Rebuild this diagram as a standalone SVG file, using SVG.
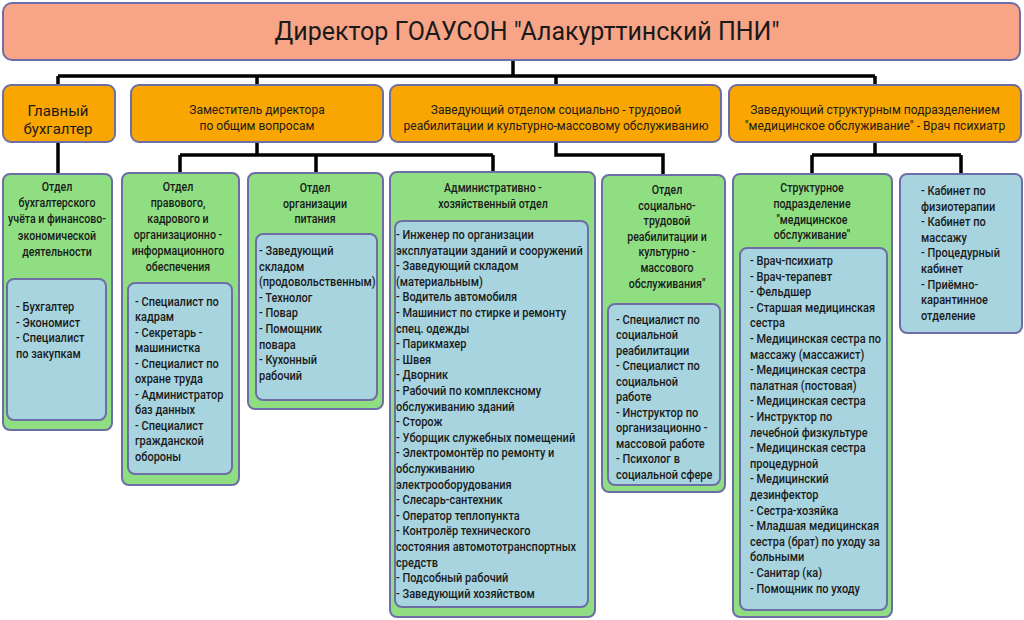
<svg xmlns="http://www.w3.org/2000/svg" width="1024" height="620" viewBox="0 0 1024 620">
<style>
.top{fill:#f8a487;stroke:#6e6ea6;stroke-width:2}
.or{fill:#f9a602;stroke:#6e6ea6;stroke-width:2}
.gr{fill:#8fdf82;stroke:#6e6ea6;stroke-width:2}
.bl{fill:#a8d4e0;stroke:#6e6ea6;stroke-width:2}
.t{font-family:Roboto,"Noto Sans",sans-serif;fill:#1a1a1a}
.h{font-size:12px}
.c{font-size:12.5px;font-weight:500}
.m{text-anchor:middle}
.ln{fill:none;stroke:#000;stroke-width:3.5}
</style>
<rect width="1024" height="620" fill="#fff"/>
<g id="connectors">
<path class="ln" d="M513,60V76M58,76H875M58,76V86M257,76V86M556,76V86M875,76V86"/>
<path class="ln" d="M58,142V175"/>
<path class="ln" d="M257,142V155M180,155H493M180,155V174M316,155V174M493,155V173"/>
<path class="ln" d="M556,142V155H663V176"/>
<path class="ln" d="M875,142V155M812,155H961M812,155V175M961,155V175"/>
</g>
<g id="director">
<rect class="top" x="3" y="3" width="1017" height="57" rx="9"/>
<text class="t m" x="527" y="40" font-size="25">Директор ГОАУСОН "Алакурттинский ПНИ"</text>
</g>
<g id="chief-accountant">
<rect class="or" x="3" y="85" width="112" height="57" rx="8"/>
<text class="t m" x="58" y="116" font-size="15"><tspan x="58">Главный</tspan><tspan x="58" dy="18">бухгалтер</tspan></text>
</g>
<g id="deputy">
<rect class="or" x="131" y="85" width="252" height="57" rx="8"/>
<text class="t h m" x="257" y="114"><tspan x="257">Заместитель директора</tspan><tspan x="257" dy="16">по общим вопросам</tspan></text>
</g>
<g id="head-social">
<rect class="or" x="390" y="85" width="331" height="57" rx="8"/>
<text class="t h m" x="556" y="114"><tspan x="556">Заведующий отделом социально - трудовой</tspan><tspan x="556" dy="16">реабилитации и культурно-массовому обслуживанию</tspan></text>
</g>
<g id="head-medical">
<rect class="or" x="729" y="85" width="292" height="57" rx="8"/>
<text class="t h m" x="875" y="114"><tspan x="875">Заведующий структурным подразделением</tspan><tspan x="875" dy="16">"медицинское обслуживание" - Врач психиатр</tspan></text>
</g>
<g id="dept-accounting">
<rect class="gr" x="3" y="174" width="109" height="256" rx="7"/>
<text class="t c m" transform="translate(57,0) scale(0.85,1)" y="191"><tspan x="0">Отдел</tspan><tspan x="0" dy="16.2">бухгалтерского</tspan><tspan x="0" dy="16.2">учёта и финансово-</tspan><tspan x="0" dy="16.2">экономической</tspan><tspan x="0" dy="16.2">деятельности</tspan></text>
<rect class="bl" x="7" y="279" width="99" height="141" rx="7"/>
<text class="t c" transform="translate(16,0) scale(0.88,1)" y="311"><tspan x="0">- Бухгалтер</tspan><tspan x="0" dy="15.6">- Экономист</tspan><tspan x="0" dy="15.6">- Специалист</tspan><tspan x="0" dy="15.6">по закупкам</tspan></text>
</g>
<g id="dept-legal">
<rect class="gr" x="122" y="173" width="117" height="312" rx="7"/>
<text class="t c m" transform="translate(178,0) scale(0.85,1)" y="191"><tspan x="0">Отдел</tspan><tspan x="0" dy="16">правового,</tspan><tspan x="0" dy="16">кадрового и</tspan><tspan x="0" dy="16">организационно -</tspan><tspan x="0" dy="16">информационного</tspan><tspan x="0" dy="16">обеспечения</tspan></text>
<rect class="bl" x="128" y="283" width="104" height="191" rx="7"/>
<text class="t c" transform="translate(135,0) scale(0.88,1)" y="306"><tspan x="0">- Специалист по</tspan><tspan x="0" dy="15.5">кадрам</tspan><tspan x="0" dy="15.5">- Секретарь -</tspan><tspan x="0" dy="15.5">машинистка</tspan><tspan x="0" dy="15.5">- Специалист по</tspan><tspan x="0" dy="15.5">охране труда</tspan><tspan x="0" dy="15.5">- Администратор</tspan><tspan x="0" dy="15.5">баз данных</tspan><tspan x="0" dy="15.5">- Специалист</tspan><tspan x="0" dy="15.5">гражданской</tspan><tspan x="0" dy="15.5">обороны</tspan></text>
</g>
<g id="dept-catering">
<rect class="gr" x="248" y="173" width="135" height="236" rx="7"/>
<text class="t c m" transform="translate(315,0) scale(0.85,1)" y="192"><tspan x="0">Отдел</tspan><tspan x="0" dy="15.6">организации</tspan><tspan x="0" dy="15.6">питания</tspan></text>
<rect class="bl" x="256" y="234" width="121" height="166" rx="7"/>
<text class="t c" transform="translate(259,0) scale(0.88,1)" y="255"><tspan x="0">- Заведующий</tspan><tspan x="0" dy="15.6">складом</tspan><tspan x="0" dy="15.6">(продовольственным)</tspan><tspan x="0" dy="15.6">- Технолог</tspan><tspan x="0" dy="15.6">- Повар</tspan><tspan x="0" dy="15.6">- Помощник</tspan><tspan x="0" dy="15.6">повара</tspan><tspan x="0" dy="15.6">- Кухонный</tspan><tspan x="0" dy="15.6">рабочий</tspan></text>
</g>
<g id="dept-admin">
<rect class="gr" x="390" y="172" width="205" height="445" rx="7"/>
<text class="t c m" transform="translate(493,0) scale(0.85,1)" y="192"><tspan x="0">Административно -</tspan><tspan x="0" dy="15.6">хозяйственный отдел</tspan></text>
<rect class="bl" x="395" y="221" width="193" height="386" rx="7"/>
<text class="t c" transform="translate(396,0) scale(0.88,1)" y="239"><tspan x="0">- Инженер по организации</tspan><tspan x="0" dy="15.6">эксплуатации зданий и сооружений</tspan><tspan x="0" dy="15.6">- Заведующий складом</tspan><tspan x="0" dy="15.6">(материальным)</tspan><tspan x="0" dy="15.6">- Водитель автомобиля</tspan><tspan x="0" dy="15.6">- Машинист по стирке и ремонту</tspan><tspan x="0" dy="15.6">спец. одежды</tspan><tspan x="0" dy="15.6">- Парикмахер</tspan><tspan x="0" dy="15.6">- Швея</tspan><tspan x="0" dy="15.6">- Дворник</tspan><tspan x="0" dy="15.6">- Рабочий по комплексному</tspan><tspan x="0" dy="15.6">обслуживанию зданий</tspan><tspan x="0" dy="15.6">- Сторож</tspan><tspan x="0" dy="15.6">- Уборщик служебных помещений</tspan><tspan x="0" dy="15.6">- Электромонтёр по ремонту и</tspan><tspan x="0" dy="15.6">обслуживанию</tspan><tspan x="0" dy="15.6">электрооборудования</tspan><tspan x="0" dy="15.6">- Слесарь-сантехник</tspan><tspan x="0" dy="15.6">- Оператор теплопункта</tspan><tspan x="0" dy="15.6">- Контролёр технического</tspan><tspan x="0" dy="15.6">состояния автомототранспортных</tspan><tspan x="0" dy="15.6">средств</tspan><tspan x="0" dy="15.6">- Подсобный рабочий</tspan><tspan x="0" dy="15.6">- Заведующий хозяйством</tspan></text>
</g>
<g id="dept-social">
<rect class="gr" x="602" y="175" width="123" height="317" rx="7"/>
<text class="t c m" transform="translate(667,0) scale(0.85,1)" y="194"><tspan x="0">Отдел</tspan><tspan x="0" dy="15.6">социально-</tspan><tspan x="0" dy="15.6">трудовой</tspan><tspan x="0" dy="15.6">реабилитации и</tspan><tspan x="0" dy="15.6">культурно -</tspan><tspan x="0" dy="15.6">массового</tspan><tspan x="0" dy="15.6">обслуживания"</tspan></text>
<rect class="bl" x="608" y="304" width="112" height="181" rx="7"/>
<text class="t c" transform="translate(616,0) scale(0.88,1)" y="324"><tspan x="0">- Специалист по</tspan><tspan x="0" dy="15.5">социальной</tspan><tspan x="0" dy="15.5">реабилитации</tspan><tspan x="0" dy="15.5">- Специалист по</tspan><tspan x="0" dy="15.5">социальной</tspan><tspan x="0" dy="15.5">работе</tspan><tspan x="0" dy="15.5">- Инструктор по</tspan><tspan x="0" dy="15.5">организационно -</tspan><tspan x="0" dy="15.5">массовой работе</tspan><tspan x="0" dy="15.5">- Психолог в</tspan><tspan x="0" dy="15.5">социальной сфере</tspan></text>
</g>
<g id="dept-medical">
<rect class="gr" x="733" y="174" width="159" height="443" rx="7"/>
<text class="t c m" transform="translate(812,0) scale(0.85,1)" y="192"><tspan x="0">Структурное</tspan><tspan x="0" dy="15.8">подразделение</tspan><tspan x="0" dy="15.8">"медицинское</tspan><tspan x="0" dy="15.8">обслуживание"</tspan></text>
<rect class="bl" x="740" y="248" width="147" height="362" rx="7"/>
<text class="t c" transform="translate(750,0) scale(0.88,1)" y="265"><tspan x="0">- Врач-психиатр</tspan><tspan x="0" dy="15.6">- Врач-терапевт</tspan><tspan x="0" dy="15.6">- Фельдшер</tspan><tspan x="0" dy="15.6">- Старшая медицинская</tspan><tspan x="0" dy="15.6">сестра</tspan><tspan x="0" dy="15.6">- Медицинская сестра по</tspan><tspan x="0" dy="15.6">массажу (массажист)</tspan><tspan x="0" dy="15.6">- Медицинская сестра</tspan><tspan x="0" dy="15.6">палатная (постовая)</tspan><tspan x="0" dy="15.6">- Медицинская сестра</tspan><tspan x="0" dy="15.6">- Инструктор по</tspan><tspan x="0" dy="15.6">лечебной физкультуре</tspan><tspan x="0" dy="15.6">- Медицинская сестра</tspan><tspan x="0" dy="15.6">процедурной</tspan><tspan x="0" dy="15.6">- Медицинский</tspan><tspan x="0" dy="15.6">дезинфектор</tspan><tspan x="0" dy="15.6">- Сестра-хозяйка</tspan><tspan x="0" dy="15.6">- Младшая медицинская</tspan><tspan x="0" dy="15.6">сестра (брат) по уходу за</tspan><tspan x="0" dy="15.6">больными</tspan><tspan x="0" dy="15.6">- Санитар (ка)</tspan><tspan x="0" dy="15.6">- Помощник по уходу</tspan></text>
</g>
<g id="cabinets">
<rect class="bl" x="900" y="174" width="122" height="159" rx="7"/>
<text class="t c" transform="translate(921,0) scale(0.88,1)" y="195"><tspan x="0">- Кабинет по</tspan><tspan x="0" dy="15.6">физиотерапии</tspan><tspan x="0" dy="15.6">- Кабинет по</tspan><tspan x="0" dy="15.6">массажу</tspan><tspan x="0" dy="15.6">- Процедурный</tspan><tspan x="0" dy="15.6">кабинет</tspan><tspan x="0" dy="15.6">- Приёмно-</tspan><tspan x="0" dy="15.6">карантинное</tspan><tspan x="0" dy="15.6">отделение</tspan></text>
</g>
</svg>
